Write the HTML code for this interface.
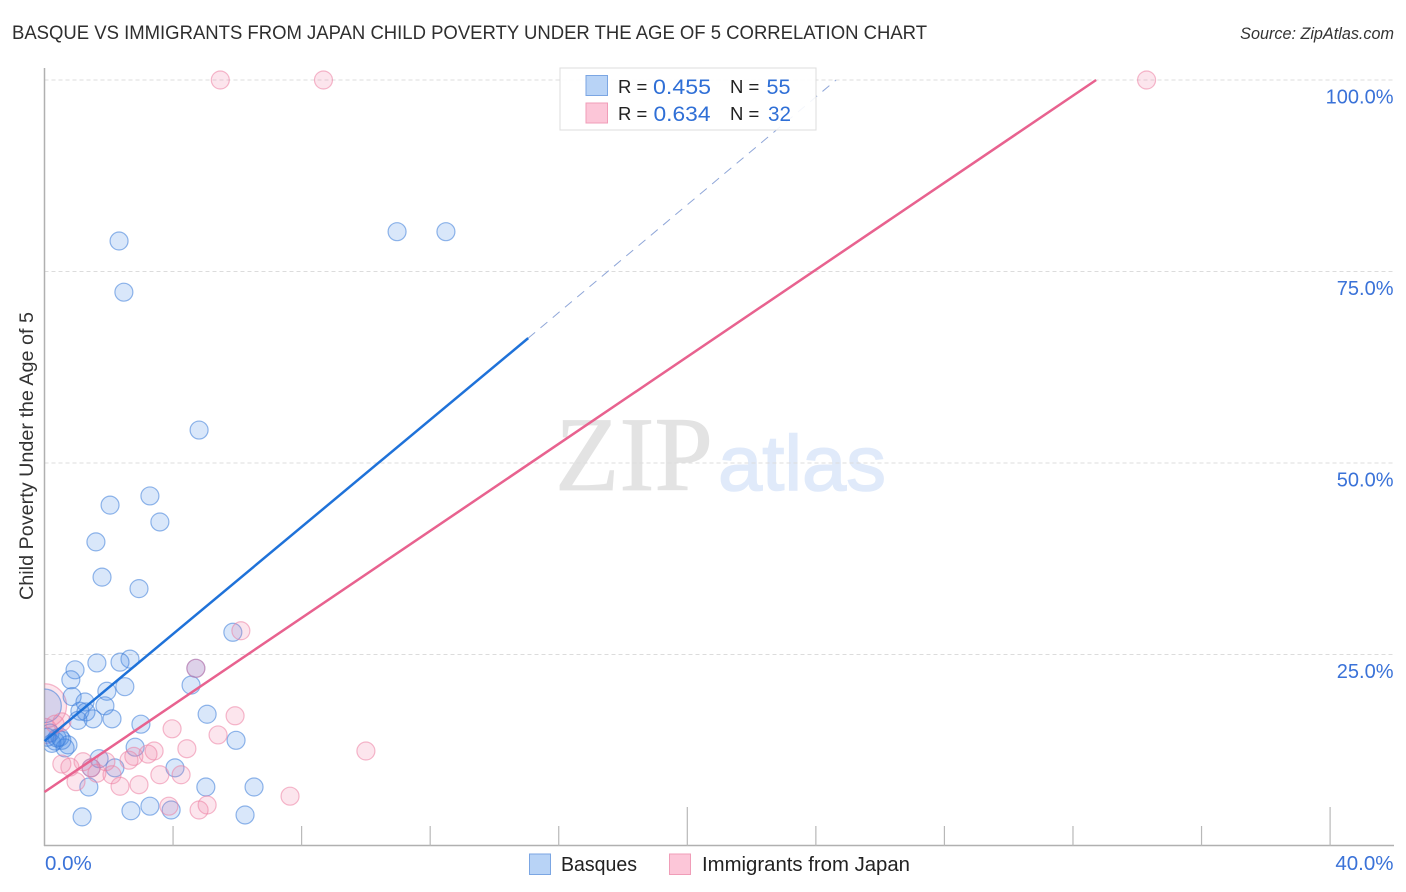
<!DOCTYPE html>
<html lang="en">
<head>
<meta charset="utf-8">
<title>Basque vs Immigrants from Japan Child Poverty Correlation Chart</title>
<style>
html,body{margin:0;padding:0;background:#fff;width:1406px;height:892px;overflow:hidden}
svg{display:block;font-family:"Liberation Sans",sans-serif}
</style>
</head>
<body>
<svg id="chart" xmlns="http://www.w3.org/2000/svg" width="1406" height="892" viewBox="0 0 1406 892">
  <defs><clipPath id="plot-clip"><rect x="44.5" y="60" width="1350" height="786"/></clipPath></defs>
  <text x="12" y="39" font-size="19" fill="#2e2e2e" textLength="915" lengthAdjust="spacingAndGlyphs">BASQUE VS IMMIGRANTS FROM JAPAN CHILD POVERTY UNDER THE AGE OF 5 CORRELATION CHART</text>
  <text x="1394" y="39" font-size="16.2" font-style="italic" fill="#333" text-anchor="end">Source: ZipAtlas.com</text>
  <g>
    <text x="555" y="490" font-family="'Liberation Serif',serif" font-size="106" fill="#e3e3e3" stroke="#e3e3e3" stroke-width="0.8" textLength="158" lengthAdjust="spacingAndGlyphs">ZIP</text>
    <text x="718" y="490" font-size="78" fill="#e0eafa" stroke="#e0eafa" stroke-width="1.5" textLength="168" lengthAdjust="spacingAndGlyphs">atlas</text>
  </g>
  <g id="grid"></g>
  <g id="axes"></g>
  <g id="points" clip-path="url(#plot-clip)"></g>
  <g id="lines"></g>
  <text transform="translate(33,456) rotate(-90)" font-size="19.5" fill="#333" text-anchor="middle" textLength="288" lengthAdjust="spacingAndGlyphs">Child Poverty Under the Age of 5</text>
  <g>
    <rect x="560" y="68" width="256" height="62" fill="#fff" fill-opacity="0.9" stroke="#ddd" stroke-width="1"/>
    <rect x="586" y="75.5" width="21.5" height="20" fill="#b8d3f6" stroke="#7ba6e3" stroke-width="1"/>
    <rect x="586" y="103" width="21.5" height="20" fill="#fcc6d8" stroke="#f09db8" stroke-width="1"/>
    <text x="618" y="93" font-size="18.5" fill="#222">R =</text>
    <text x="653" y="94" font-size="21.5" fill="#2f6fd6" textLength="58" lengthAdjust="spacingAndGlyphs">0.455</text>
    <text x="730" y="93" font-size="18.5" fill="#222">N =</text>
    <text x="766.5" y="94" font-size="21.5" fill="#2f6fd6" textLength="24" lengthAdjust="spacingAndGlyphs">55</text>
    <text x="618" y="120" font-size="18.5" fill="#222">R =</text>
    <text x="653.5" y="121" font-size="21.5" fill="#2f6fd6" textLength="57" lengthAdjust="spacingAndGlyphs">0.634</text>
    <text x="730" y="120" font-size="18.5" fill="#222">N =</text>
    <text x="768" y="121" font-size="21.5" fill="#2f6fd6" textLength="23" lengthAdjust="spacingAndGlyphs">32</text>
  </g>
  <g>
    <g>
      <rect x="529.5" y="854" width="21" height="20.5" fill="#b8d3f6" stroke="#7ba6e3" stroke-width="1"/>
      <text x="561" y="871" font-size="20" fill="#222" textLength="76" lengthAdjust="spacingAndGlyphs">Basques</text>
    </g>
    <g>
      <rect x="669.5" y="854" width="21" height="20.5" fill="#fcc6d8" stroke="#f09db8" stroke-width="1"/>
      <text x="702" y="871" font-size="20" fill="#222" textLength="208" lengthAdjust="spacingAndGlyphs">Immigrants from Japan</text>
    </g>
  </g>
</svg>
<script>
const yTicks = [25, 50, 75, 100];
const yTickLabels = ["25.0%", "50.0%", "75.0%", "100.0%"];
const xTicks = [4, 8, 12, 16, 20, 24, 28, 32, 36, 40];
const xMajorTicks = [20, 40];
const xEndLabels = ["0.0%", "40.0%"];

const basqueX = [2.32,2.47,10.97,12.49,4.81,3.28,2.04,3.59,1.60,1.79,2.94,5.86,2.66,2.35,1.63,0.95,0.82,4.71,4.56,2.50,1.94,0.86,1.26,1.88,1.10,1.29,1.04,1.51,2.10,3.00,5.06,5.96,2.82,1.70,2.19,4.06,1.45,1.38,5.02,6.52,3.28,2.69,3.94,6.24,1.17,0.23,0.33,0.48,0.73,0.64,0.17,0.39,0.54,0.08];
const basqueY = [78.98,72.3,80.2,80.2,54.3,45.7,44.5,42.3,39.7,35.1,33.6,27.9,24.4,24.0,23.9,23.0,21.7,23.2,21.0,20.8,20.2,19.5,18.8,18.3,17.6,17.5,16.4,16.6,16.6,15.9,17.2,13.8,12.9,11.4,10.2,10.2,10.2,7.7,7.7,7.7,5.2,4.6,4.7,4.05,3.8,13.4,13.7,14.2,13.2,12.8,14.75,14.1,13.8,14.2];
const japanX = [5.47,8.68,34.29,6.11,4.71,5.93,3.97,5.40,4.43,10.0,3.41,3.22,2.78,2.63,3.59,4.25,2.94,2.35,2.10,1.63,1.20,1.91,0.54,0.79,0.98,1.45,7.64,3.87,5.06,4.81,0.33,0.54];
const japanY = [100,100,100,28.1,23.2,17.0,15.3,14.5,12.7,12.4,12.4,12.0,11.7,11.2,9.3,9.3,8.0,7.8,9.3,9.5,11.0,11.0,10.7,10.3,8.4,10.2,6.5,5.2,5.35,4.7,15.9,16.2];
const basqueLargeX = [0];
const basqueLargeY = [18.3];
const basqueLargeWeight = [3.5];
const japanLargeX = [0, 0];
const japanLargeY = [18.3, 15];
const japanLargeWeight = [6, 2];

const basqueSolidX = [0, 15.05];
const basqueSolidY = [13.7, 66.3];
const basqueDashX = [15.05, 24.63];
const basqueDashY = [66.3, 100];
const japanTrendX = [0, 32.72];
const japanTrendY = [7.05, 100];

const NS = "http://www.w3.org/2000/svg";
const sx = v => 44.5 + v * 32.14;
const sy = v => 846 - v * 7.66;
const BASE_R = 9;

const grid = document.getElementById("grid");
const axes = document.getElementById("axes");
const points = document.getElementById("points");
const lines = document.getElementById("lines");

yTicks.forEach((t, i) => {
  const l = document.createElementNS(NS, "line");
  
  
  l.setAttribute("x1", 44.5);
  l.setAttribute("x2", 1394);
  l.setAttribute("y1", sy(t));
  l.setAttribute("y2", sy(t));
  l.setAttribute("stroke", "#dcdcdc");
  l.setAttribute("stroke-width", 1);
  l.setAttribute("stroke-dasharray", "4 3");
  grid.appendChild(l);
  const lab = document.createElementNS(NS, "text");
  
  
  lab.setAttribute("x", 1393.5);
  lab.setAttribute("y", sy(t) + 23.5);
  lab.setAttribute("font-size", 20);
  lab.setAttribute("fill", "#3a72d8");
  lab.setAttribute("text-anchor", "end");
  lab.textContent = yTickLabels[i];
  axes.appendChild(lab);
});

const yAxis = document.createElementNS(NS, "line");


yAxis.setAttribute("x1", 44.5);
yAxis.setAttribute("x2", 44.5);
yAxis.setAttribute("y1", 68);
yAxis.setAttribute("y2", 846);
yAxis.setAttribute("stroke", "#b0b0b0");
yAxis.setAttribute("stroke-width", 1.5);
axes.appendChild(yAxis);

const xAxis = document.createElementNS(NS, "line");


xAxis.setAttribute("x1", 44);
xAxis.setAttribute("x2", 1394);
xAxis.setAttribute("y1", 845.5);
xAxis.setAttribute("y2", 845.5);
xAxis.setAttribute("stroke", "#b0b0b0");
xAxis.setAttribute("stroke-width", 1.5);
axes.appendChild(xAxis);

xTicks.forEach(t => {
  const major = xMajorTicks.includes(t);
  const tick = document.createElementNS(NS, "line");
  
  
  tick.setAttribute("x1", sx(t));
  tick.setAttribute("x2", sx(t));
  tick.setAttribute("y1", major ? 807 : 826);
  tick.setAttribute("y2", 846);
  tick.setAttribute("stroke", "#b8b8b8");
  tick.setAttribute("stroke-width", 1.2);
  axes.appendChild(tick);
});

const xLabelLeft = document.createElementNS(NS, "text");


xLabelLeft.setAttribute("x", 45);
xLabelLeft.setAttribute("y", 870);
xLabelLeft.setAttribute("font-size", 20.5);
xLabelLeft.setAttribute("fill", "#3a72d8");
xLabelLeft.textContent = xEndLabels[0];
axes.appendChild(xLabelLeft);

const xLabelRight = document.createElementNS(NS, "text");


xLabelRight.setAttribute("x", 1393.5);
xLabelRight.setAttribute("y", 870);
xLabelRight.setAttribute("font-size", 20.5);
xLabelRight.setAttribute("fill", "#3a72d8");
xLabelRight.setAttribute("text-anchor", "end");
xLabelRight.textContent = xEndLabels[1];
axes.appendChild(xLabelRight);

function drawBasque(x, y, weight) {
  const c = document.createElementNS(NS, "circle");
  
  
  c.setAttribute("cx", sx(x));
  c.setAttribute("cy", sy(y));
  c.setAttribute("r", BASE_R * Math.sqrt(weight));
  c.setAttribute("fill", "#3f86e6");
  c.setAttribute("fill-opacity", 0.2);
  c.setAttribute("stroke", "#3a7bd8");
  c.setAttribute("stroke-opacity", 0.55);
  c.setAttribute("stroke-width", 1.2);
  points.appendChild(c);
}
function drawJapan(x, y, weight) {
  const c = document.createElementNS(NS, "circle");
  
  
  c.setAttribute("cx", sx(x));
  c.setAttribute("cy", sy(y));
  c.setAttribute("r", BASE_R * Math.sqrt(weight));
  c.setAttribute("fill", "#f27da3");
  c.setAttribute("fill-opacity", 0.2);
  c.setAttribute("stroke", "#ec7fa2");
  c.setAttribute("stroke-opacity", 0.55);
  c.setAttribute("stroke-width", 1.2);
  points.appendChild(c);
}
japanLargeX.forEach((x, i) => drawJapan(x, japanLargeY[i], japanLargeWeight[i]));
basqueLargeX.forEach((x, i) => drawBasque(x, basqueLargeY[i], basqueLargeWeight[i]));
basqueX.forEach((x, i) => drawBasque(x, basqueY[i], 1));
japanX.forEach((x, i) => drawJapan(x, japanY[i], 1));

const basqueDash = document.createElementNS(NS, "line");


basqueDash.setAttribute("x1", sx(basqueDashX[0]));
basqueDash.setAttribute("y1", sy(basqueDashY[0]));
basqueDash.setAttribute("x2", sx(basqueDashX[1]));
basqueDash.setAttribute("y2", sy(basqueDashY[1]));
basqueDash.setAttribute("stroke", "#8fa6d8");
basqueDash.setAttribute("stroke-width", 1);
basqueDash.setAttribute("stroke-dasharray", "9 7");
lines.appendChild(basqueDash);

const basqueSolid = document.createElementNS(NS, "line");


basqueSolid.setAttribute("x1", sx(basqueSolidX[0]));
basqueSolid.setAttribute("y1", sy(basqueSolidY[0]));
basqueSolid.setAttribute("x2", sx(basqueSolidX[1]));
basqueSolid.setAttribute("y2", sy(basqueSolidY[1]));
basqueSolid.setAttribute("stroke", "#1f72d9");
basqueSolid.setAttribute("stroke-width", 2.5);
lines.appendChild(basqueSolid);

const japanTrend = document.createElementNS(NS, "line");


japanTrend.setAttribute("x1", sx(japanTrendX[0]));
japanTrend.setAttribute("y1", sy(japanTrendY[0]));
japanTrend.setAttribute("x2", sx(japanTrendX[1]));
japanTrend.setAttribute("y2", sy(japanTrendY[1]));
japanTrend.setAttribute("stroke", "#e8628f");
japanTrend.setAttribute("stroke-width", 2.5);
lines.appendChild(japanTrend);
</script>
</body>
</html>
